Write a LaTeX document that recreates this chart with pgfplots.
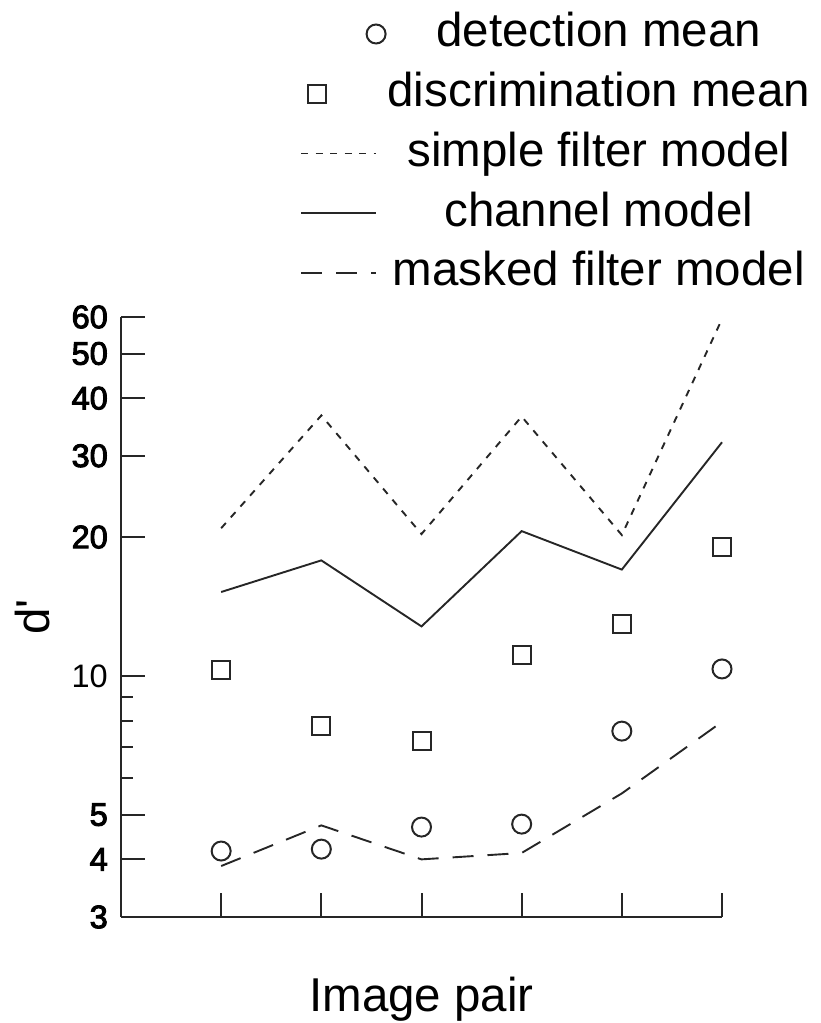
\documentclass[border=0pt]{standalone}
\usepackage{pgfplots}
\pgfplotsset{compat=1.18}
\usepackage{fontspec}
\setmainfont{Liberation Sans}
\newfontfamily\semib[FakeBold=3]{Liberation Sans}
\pgfplotsset{
  legcirc/.style={legend image code/.code={\draw[##1] plot[only marks] coordinates {(75pt,0pt)};}},
  legsq/.style={legend image code/.code={\draw[##1] plot[only marks] coordinates {(16pt,0pt)};}},
  legline/.style={legend image code/.code={\draw[##1] (0pt,0pt) -- (75pt,0pt);}},
}
\begin{document}
\begin{tikzpicture}[x=1pt,y=1pt]
\useasboundingbox (0,0) rectangle (821,1023);
\begin{axis}[
  at={(121pt,106pt)}, anchor=south west,
  scale only axis, width=601pt, height=600pt,
  xmin=0, xmax=6, ymin=3, ymax=60, ymode=log,
  clip=false,
  axis lines*=left,
  axis line style={line width=2pt, black!85, -},
  xtick={1,2,3,4,5,6}, xticklabels={},
  ytick={3,4,5,10,20,30,40,50,60},
  yticklabels={{\semib 3},{\semib 4},{\semib 5},10,{\semib 20},{\semib 30},{\semib 40},{\semib 50},{\semib 60}},
  minor ytick={6,7,8,9},
  tick align=inside,
  major tick length=24pt, minor tick length=12pt,
  tick style={line width=2pt, black!85},
  yticklabel style={font=\fontsize{32.5}{38}\selectfont, inner sep=0pt, xshift=-13pt},
  xlabel={Image pair},
  xlabel style={at={(axis description cs:0.5,-0.1583)}, anchor=base, inner sep=0pt, font=\fontsize{47.5}{57}\selectfont},
  ylabel={d\textquotesingle},
  ylabel style={at={(axis description cs:-0.148,0.5)}, anchor=center, inner sep=0pt, font=\fontsize{47.5}{57}\selectfont},
  legend style={draw=none, fill=none, at={(1.1464,1.51)}, anchor=north east,
    inner xsep=0pt, inner ysep=0pt, outer sep=0pt,
    row sep=13.75pt, column sep=2pt,
    font=\fontsize{47.5}{57}\selectfont,
    cells={anchor=center},
    nodes={inner sep=0pt, text height=36pt, text depth=10pt}},
]
\addplot[only marks, mark=o, mark size=9.5pt, black!85, mark options={line width=2pt, solid}, legcirc]
  coordinates {(1,4.17) (2,4.21) (3,4.70) (4,4.77) (5,7.59) (6,10.35)};
\addlegendentry{detection mean}
\addplot[only marks, mark=square, mark size=9pt, black!85, mark options={line width=2pt, solid}, legsq]
  coordinates {(1,10.3) (2,7.78) (3,7.24) (4,11.1) (5,12.98) (6,19.0)};
\addlegendentry{discrimination mean}
\addplot[black!85, line width=1.9pt, dash pattern=on 7pt off 7.5pt, mark=none, legline]
  coordinates {(1,20.9) (2,36.7) (3,20.3) (4,36.5) (5,20.2) (6,59.4)};
\addlegendentry{simple filter model}
\addplot[black!85, line width=1.9pt, solid, mark=none, legline]
  coordinates {(1,15.2) (2,17.8) (3,12.8) (4,20.6) (5,17.0) (6,32.1)};
\addlegendentry{channel model}
\addplot[black!85, line width=1.9pt, dash pattern=on 21pt off 14pt, mark=none, legline]
  coordinates {(1,3.87) (2,4.74) (3,4.0) (4,4.13) (5,5.56) (6,7.95)};
\addlegendentry{masked filter model}
\end{axis}
\end{tikzpicture}
\end{document}
